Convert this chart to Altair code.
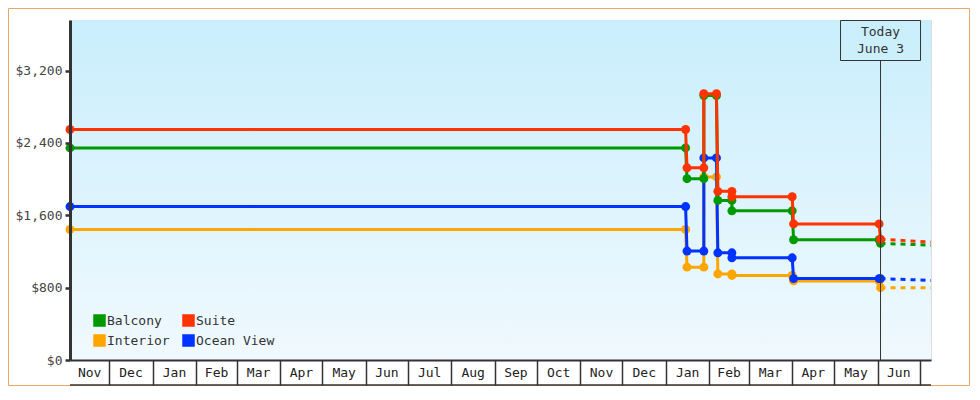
import altair as alt
import pandas as pd

# ---------------- data ----------------
series_order = ["Balcony", "Suite", "Interior", "Ocean View"]
series_colors = ["#009900", "#ff3300", "#ffa500", "#0033ff"]
draw_order = ["Interior", "Ocean View", "Balcony", "Suite"]

start_date = "2023-11-03"
change_old_dates = ["2025-01-15", "2025-01-28", "2025-02-06", "2025-02-17", "2025-04-01", "2025-06-02"]
change_new_dates = ["2025-01-16", "2025-01-28", "2025-02-07", "2025-02-17", "2025-04-02", "2025-06-03"]
forecast_end_date = "2025-07-09"

balcony_prices = [2345, 2005, 2925, 1765, 1650, 1330, 1290]
suite_prices = [2549, 2125, 2945, 1865, 1805, 1505, 1335]
interior_prices = [1443, 1027, 2025, 952, 935, 875, 800]
ocean_view_prices = [1697, 1205, 2235, 1185, 1130, 900, 900]

balcony_forecast = 1270
suite_forecast = 1305
interior_forecast = 800
ocean_view_forecast = 880

today_date = "2025-06-03"
today_label = "Today\nJune 3"

domain_start = "2023-11-03"
domain_end = "2025-07-09"
month_starts = pd.date_range("2023-11-01", "2025-07-01", freq="MS")
y_ticks = [0, 800, 1600, 2400, 3200]
y_max = 3760

# ---------------- tables ----------------
prices = {
    "Balcony": balcony_prices,
    "Suite": suite_prices,
    "Interior": interior_prices,
    "Ocean View": ocean_view_prices,
}
forecasts = {
    "Balcony": balcony_forecast,
    "Suite": suite_forecast,
    "Interior": interior_forecast,
    "Ocean View": ocean_view_forecast,
}

hist_rows = []
fc_rows = []
for name in draw_order:
    p = prices[name]
    seq = 0
    hist_rows.append({"series": name, "line": name, "date": pd.Timestamp(start_date), "price": p[0], "seq": seq})
    for i in range(len(change_old_dates)):
        seq += 1
        hist_rows.append({"series": name, "line": name, "date": pd.Timestamp(change_old_dates[i]), "price": p[i], "seq": seq})
        seq += 1
        hist_rows.append({"series": name, "line": name, "date": pd.Timestamp(change_new_dates[i]), "price": p[i + 1], "seq": seq})
    fc_rows.append({"series": name, "line": name, "date": pd.Timestamp(today_date), "price": p[-1], "seq": 0})
    fc_rows.append({"series": name, "line": name, "date": pd.Timestamp(forecast_end_date), "price": forecasts[name], "seq": 1})
hist = pd.DataFrame(hist_rows)
fc = pd.DataFrame(fc_rows)

dstart = pd.Timestamp(domain_start)
dend = pd.Timestamp(domain_end)
lab_rows = []
for i in range(len(month_starts) - 1):
    s = max(month_starts[i], dstart)
    e = min(month_starts[i + 1], dend)
    lab_rows.append({"date": s + (e - s) / 2, "label": month_starts[i].strftime("%b")})
labels_df = pd.DataFrame(lab_rows)

today_df = pd.DataFrame({"date": [pd.Timestamp(today_date)], "label": [today_label]})


def dt(ts):
    return alt.DateTime(year=ts.year, month=ts.month, date=ts.day)


W, H = 861, 340
FONT = "DejaVu Sans Mono"

xscale = alt.Scale(domain=[dt(dstart), dt(dend)], nice=False)
xaxis = alt.Axis(
    values=[dt(m) for m in month_starts[1:]],
    labels=False, grid=False, title=None, zindex=1,
    tickSize=25, tickWidth=1.5, tickColor="#333333",
    domainWidth=2, domainColor="#333333",
)
yscale = alt.Scale(domain=[0, y_max], nice=False)
yaxis = alt.Axis(
    values=y_ticks, format="$,.0f", grid=False, title=None, zindex=1,
    tickSize=5, tickWidth=2.5, tickColor="#333333",
    domainWidth=3, domainColor="#333333",
    labelFont=FONT, labelFontSize=13, labelColor="#444444", labelPadding=3,
)
cscale = alt.Scale(domain=series_order, range=series_colors)


def X():
    return alt.X("date:T", scale=xscale, axis=xaxis, title=None)


def Y():
    return alt.Y("price:Q", scale=yscale, axis=yaxis, title=None)


legend = alt.Legend(
    orient="none", legendX=23, legendY=294, columns=2, direction="horizontal",
    symbolType="square", symbolSize=121, zindex=2,
    labelFont=FONT, labelFontSize=13, labelColor="#333333", labelOffset=1,
    rowPadding=3, columnPadding=10, padding=0, title=None,
)

one = pd.DataFrame({"k": [0]})
legend_df = pd.DataFrame({"series": series_order})

bg = alt.Chart(one).mark_rect(
    color=alt.Gradient(
        gradient="linear",
        stops=[alt.GradientStop(color="#c9eefc", offset=0),
               alt.GradientStop(color="#f0f9fe", offset=1)],
        x1=0, x2=0, y1=0, y2=1,
    )
).encode(x=alt.value(0), x2=alt.value(W), y=alt.value(0), y2=alt.value(H))

border = alt.Chart(one).mark_rect(
    fillOpacity=0, stroke="#eaa863", strokeWidth=1
).encode(x=alt.value(-61.5), x2=alt.value(W + 38.5), y=alt.value(-11.5), y2=alt.value(H + 25.5))

# invisible layer that carries the legend
legend_layer = alt.Chart(legend_df).mark_square(opacity=0, size=1).encode(
    x=alt.value(0), y=alt.value(0),
    color=alt.Color("series:N", scale=cscale, legend=legend),
)

forecast_lines = alt.Chart(fc).mark_line(strokeWidth=3, strokeDash=[5, 5]).encode(
    x=X(), y=Y(),
    stroke=alt.Stroke("line:N", scale=cscale, legend=None),
    detail="line:N",
    order=alt.Order("seq:Q"),
)

series_layers = []
for name in draw_order:
    base = alt.Chart(hist).transform_filter(alt.datum.series == name)
    series_layers.append(
        base.mark_line(strokeWidth=3).encode(
            x=X(), y=Y(),
            stroke=alt.Stroke("line:N", scale=cscale, legend=None),
            order=alt.Order("seq:Q"),
        )
    )
    series_layers.append(
        base.mark_point(filled=True, size=80, opacity=1, shape="circle").encode(
            x=X(), y=Y(),
            fill=alt.Fill("line:N", scale=cscale, legend=None),
        )
    )

today_rule = alt.Chart(today_df).mark_rule(color="#333333", strokeWidth=1).encode(
    x=X(), y=alt.value(40.5), y2=alt.value(H)
)
today_box = alt.Chart(today_df).mark_point(
    shape="M-1,-0.5L1,-0.5L1,0.5L-1,0.5Z", size=6400, filled=False,
    stroke="#333333", strokeWidth=1, opacity=1,
).encode(x=X(), y=alt.value(20.5))
today_text = alt.Chart(today_df).mark_text(
    font=FONT, fontSize=13, color="#333333", align="center", baseline="top",
    lineBreak="\n", lineHeight=17,
).encode(x=X(), y=alt.value(6), text="label:N")

month_text = alt.Chart(labels_df).mark_text(
    font=FONT, fontSize=13, color="#222222", align="center", baseline="middle",
).encode(x=X(), y=alt.value(353), text="label:N")

bottom_line = alt.Chart(one).mark_rule(color="#333333", strokeWidth=1.7).encode(
    x=alt.value(0), x2=alt.value(W), y=alt.value(365)
)

chart = alt.layer(
    bg, border, legend_layer, forecast_lines, *series_layers,
    today_rule, today_box, today_text, month_text, bottom_line,
).properties(
    width=W, height=H,
    padding={"left": 62, "top": 12, "right": 39, "bottom": 26},
    autosize=alt.AutoSizeParams(type="none"),
).configure_view(strokeWidth=0).configure(font=FONT)

chart.save("out.html", embed_options={"renderer": "svg", "actions": False})
